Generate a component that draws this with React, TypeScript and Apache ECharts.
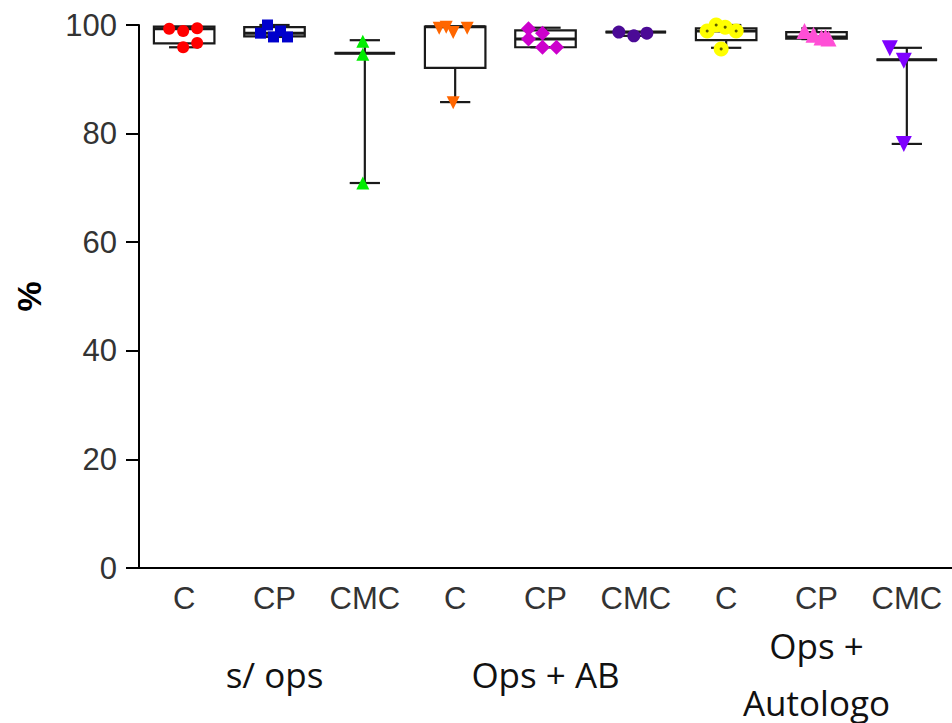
import React, { useEffect, useRef } from "react";
import * as echarts from "echarts";

// Category tick labels (9 boxes) and group labels
const categories = ["C", "CP", "CMC", "C", "CP", "CMC", "C", "CP", "CMC"];
const groups = ["s/ ops", "Ops + AB", "Ops +\nAutologo"];
const yTicks = { min: 0, max: 100, interval: 20 };

// Box summaries: [min, Q1, median, Q3, max]
const boxRed = [95.9, 96.6, 99.3, 99.7, 99.7];
const boxBlue = [97.8, 97.9, 98.5, 99.6, 100];
const boxGreen = [70.9, 94.8, 94.8, 94.8, 97.2];
const boxOrange = [85.8, 92.1, 99.7, 99.7, 99.7];
const boxMagenta = [95.9, 95.9, 97.4, 99.0, 99.5];
const boxIndigo = [98.0, 98.7, 98.7, 98.7, 98.7];
const boxYellow = [95.8, 97.2, 98.9, 99.4, 100];
const boxPink = [97.4, 97.5, 97.8, 98.7, 99.4];
const boxViolet = [78.1, 93.6, 93.6, 93.6, 95.8];

// Individual points (values) and horizontal jitter (px)
const ptsRed = [99.3, 98.9, 99.4, 95.9, 96.7];
const jitRed = [-15, -1, 13, -1, 13];
const ptsBlue = [100, 98.5, 98.9, 97.8, 97.8];
const jitBlue = [-7, -14, 6, -1, 13];
const ptsGreen = [97.0, 94.6, 70.9];
const jitGreen = [-2, -2, -2];
const ptsOrange = [99.4, 99.6, 98.6, 99.4, 85.7];
const jitOrange = [-16, -9, -2, 12, -2];
const ptsMagenta = [99.3, 98.5, 97.4, 95.9, 95.9];
const jitMagenta = [-17, -3, -17, -3, 11];
const ptsIndigo = [98.7, 98.0, 98.5];
const jitIndigo = [-17, -2, 11];
const ptsYellow = [98.9, 100, 99.6, 98.9, 95.6];
const jitYellow = [-19, -10, -1, 10, -5];
const ptsPink = [98.9, 98.2, 97.7, 97.5, 97.8];
const jitPink = [-12, -3, 5, 12, 9];
const ptsViolet = [95.7, 93.4, 78.1];
const jitViolet = [-17, -3, -3];

const boxes = [boxRed, boxBlue, boxGreen, boxOrange, boxMagenta, boxIndigo, boxYellow, boxPink, boxViolet];

const INV_TRI = "path://M0,0L20,0L10,17Z";

const pointSets = [
  { pts: ptsRed, jit: jitRed, symbol: "circle", size: 12, color: "#ff0000" },
  { pts: ptsBlue, jit: jitBlue, symbol: "rect", size: 11, color: "#0000cc" },
  { pts: ptsGreen, jit: jitGreen, symbol: "triangle", size: 13, color: "#00ee00" },
  { pts: ptsOrange, jit: jitOrange, symbol: INV_TRI, size: 13, color: "#ff6600" },
  { pts: ptsMagenta, jit: jitMagenta, symbol: "diamond", size: 15, color: "#cc00cc" },
  { pts: ptsIndigo, jit: jitIndigo, symbol: "circle", size: 13, color: "#4b0a96" },
  { pts: ptsYellow, jit: jitYellow, symbol: "circle", size: 15, color: "#ffff00" },
  { pts: ptsPink, jit: jitPink, symbol: "triangle", size: 16, color: "#ff4fd6" },
  { pts: ptsViolet, jit: jitViolet, symbol: INV_TRI, size: 16, color: "#7f00ff" },
];

export default function App() {
  const ref = useRef<HTMLDivElement>(null);
  useEffect(() => {
    if (!ref.current) return;
    const chart = echarts.init(ref.current, null, { renderer: "svg" });
    const lineColor = "#1a1a1a";

    const boxSeries = {
      type: "custom",
      z: 2,
      encode: { x: 0, y: [1, 2, 3, 4, 5] },
      data: boxes.map((b, i) => [i, ...b]),
      renderItem: (params: any, api: any) => {
        const idx = api.value(0);
        const x = api.coord([idx, 0])[0];
        const yMin = api.coord([idx, api.value(1)])[1];
        const yQ1 = api.coord([idx, api.value(2)])[1];
        const yMed = api.coord([idx, api.value(3)])[1];
        const yQ3 = api.coord([idx, api.value(4)])[1];
        const yMax = api.coord([idx, api.value(5)])[1];
        const band = api.size([1, 0])[0];
        const bw = band * 0.67;
        const cw = bw / 2;
        const st = { stroke: lineColor, lineWidth: 2.2, fill: "none" };
        return {
          type: "group",
          children: [
            { type: "line", shape: { x1: x, y1: yMax, x2: x, y2: yQ3 }, style: st },
            { type: "line", shape: { x1: x, y1: yQ1, x2: x, y2: yMin }, style: st },
            { type: "line", shape: { x1: x - cw / 2, y1: yMax, x2: x + cw / 2, y2: yMax }, style: st },
            { type: "line", shape: { x1: x - cw / 2, y1: yMin, x2: x + cw / 2, y2: yMin }, style: st },
            { type: "rect", shape: { x: x - bw / 2, y: yQ3, width: bw, height: yQ1 - yQ3 }, style: st },
            { type: "line", shape: { x1: x - bw / 2, y1: yMed, x2: x + bw / 2, y2: yMed }, style: { ...st, lineWidth: 3 } },
          ],
        };
      },
    };

    const scatterSeries = pointSets.map((p, gi) => ({
      type: "scatter",
      z: 3,
      symbol: p.symbol,
      symbolSize: p.size,
      itemStyle: { color: p.color, opacity: 1 },
      data: p.pts.map((v, i) => ({ value: [gi, v], symbolOffset: [p.jit[i], 0] })),
    }));

    // small dark centres of yellow markers
    const yellowDots = {
      type: "scatter",
      z: 4,
      symbol: "circle",
      symbolSize: 3,
      itemStyle: { color: "#333300" },
      data: ptsYellow.map((v, i) => ({ value: [6, v], symbolOffset: [jitYellow[i], 0] })),
    };

    chart.setOption({
      animation: false,
      grid: { left: 139, right: 0, top: 25, bottom: 155, containLabel: false, outerBoundsMode: "none" },
      xAxis: [
        {
          type: "category",
          data: categories,
          position: "bottom",
          axisLine: { lineStyle: { color: "#000", width: 2 } },
          axisTick: { alignWithLabel: true, length: 11, lineStyle: { color: "#000", width: 2 } },
          axisLabel: {
            color: "#333",
            fontSize: 31,
            fontFamily: "Liberation Sans, Arial, sans-serif",
            margin: 15,
            interval: 0,
          },
          splitLine: { show: false },
        },
        {
          type: "category",
          data: groups,
          position: "bottom",
          axisLine: { show: false },
          axisTick: { show: false },
          axisLabel: {
            color: "#111",
            fontSize: 35,
            fontFamily: "Open Sans, sans-serif",
            lineHeight: 57,
            verticalAlign: "middle",
            margin: 106,
            interval: 0,
          },
          splitLine: { show: false },
        },
      ],
      yAxis: {
        type: "value",
        min: yTicks.min,
        max: yTicks.max,
        interval: yTicks.interval,
        name: "%",
        nameLocation: "middle",
        nameRotate: 90,
        nameGap: 93,
        nameTextStyle: {
          color: "#000",
          fontSize: 34,
          fontWeight: "bold",
          fontFamily: "Liberation Sans, Arial, sans-serif",
        },
        axisLine: { show: true, lineStyle: { color: "#000", width: 2 } },
        axisTick: { show: true, length: 13, lineStyle: { color: "#000", width: 2 } },
        axisLabel: {
          color: "#333",
          fontSize: 31,
          fontFamily: "Liberation Sans, Arial, sans-serif",
          margin: 22,
        },
        splitLine: { show: false },
      },
      series: [boxSeries, ...scatterSeries, yellowDots],
    });
    return () => chart.dispose();
  }, []);
  return (
    <div
      ref={ref}
      style={{ position: "absolute", left: 0, top: 0, width: 952, height: 723, background: "#fff" }}
    />
  );
}
